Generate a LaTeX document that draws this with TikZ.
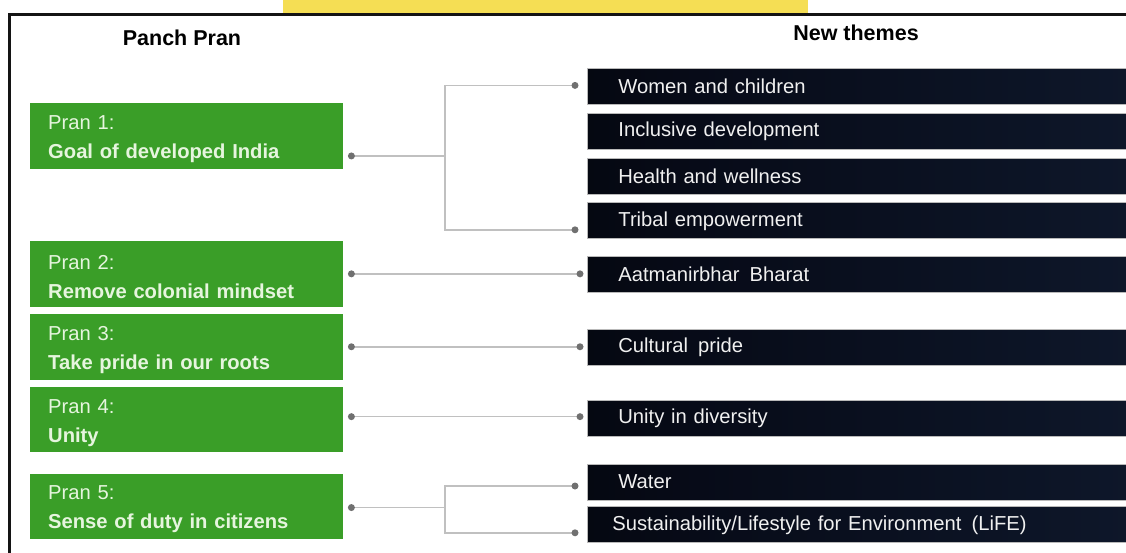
\documentclass[tikz,border=0pt]{standalone}
\usepackage{fontspec}
\setmainfont{Liberation Sans}
\usetikzlibrary{positioning, calc}

\definecolor{pranGreen}{RGB}{58,158,40}
\definecolor{pranText}{RGB}{230,245,222}
\definecolor{themeDeep}{RGB}{4,6,14}
\definecolor{themeMid}{RGB}{7,11,24}
\definecolor{themeNavy}{RGB}{15,25,45}
\definecolor{linkGray}{RGB}{192,192,192}
\definecolor{dotGray}{RGB}{112,112,112}
\definecolor{bannerYellow}{RGB}{245,222,84}
\definecolor{frameBlack}{RGB}{20,20,20}

\pgfdeclarehorizontalshading{themeshade}{100bp}{color(0bp)=(black); color(35bp)=(themeMid); color(82bp)=(themeNavy); color(100bp)=(themeDeep)}

\begin{document}
\begin{tikzpicture}[x=1pt, y=-1pt,
    pran/.style={fill=pranGreen, text=pranText, anchor=north west,
        minimum width=313pt, minimum height=65.5pt, inner xsep=18pt,
        text width=277pt, text height=20pt, align=left,
        font=\fontsize{20.2}{29}\selectfont},
    theme/.style={shading=themeshade, draw=gray!55, line width=0.8pt,
        text=white!94!black, anchor=north west,
        minimum width=545pt, minimum height=36pt, inner xsep=31pt,
        text width=483pt, align=left,
        font=\fontsize{20.2}{23}\selectfont},
    head/.style={font=\bfseries\fontsize{21.5}{25}\selectfont},
    link/.style={draw=linkGray, line width=1.6pt},
    dot/.style={fill=dotGray}
]
\useasboundingbox (0,0) rectangle (1126,552);

% banner and frame
\fill[bannerYellow] (283,0) rectangle (808,13);
\draw[frameBlack, line width=3pt] (1130,14.5) -- (9.5,14.5) -- (9.5,556);

% headings
\node[head] (hpran) at (182,38) {Panch Pran};
\node[head] (hthemes) at (856,33) {New themes};

% the five prans
\node[pran] (p1) at (30,103) {Pran 1:\\\textbf{Goal of developed India}};
\node[pran, below=72pt of p1] (p2) {Pran 2:\\\textbf{Remove colonial mindset}};
\node[pran, below=7pt of p2] (p3) {Pran 3:\\\textbf{Take pride in our roots}};
\node[pran, below=7pt of p3] (p4) {Pran 4:\\\textbf{Unity}};
\node[pran, below=21pt of p4] (p5) {Pran 5:\\\textbf{Sense of duty in citizens}};

% new themes
\node[theme] (t1) at (587,68) {Women and children};
\node[theme, below=8pt of t1] (t2) {Inclusive development};
\node[theme, below=8pt of t2] (t3) {Health and wellness};
\node[theme, below=8pt of t3] (t4) {Tribal empowerment};
\node[theme, below=17pt of t4] (t5) {Aatmanirbhar\, Bharat};
\node[theme, below=36pt of t5] (t6) {Cultural\, pride};
\node[theme, below=34pt of t6] (t7) {Unity in diversity};
\node[theme, below=27pt of t7] (t8) {Water};
\node[theme, below=6pt of t8, inner xsep=25pt, text width=495pt] (t9) {Sustainability/Lifestyle for Environment\, (LiFE)};

% connector ends
\coordinate (d1) at ([xshift=8pt,yshift=-20pt]p1.east);
\coordinate (d2) at ([xshift=8pt]p2.east);
\coordinate (d3) at ([xshift=8pt]p3.east);
\coordinate (d4) at ([xshift=8pt,yshift=3pt]p4.east);
\coordinate (d5) at ([xshift=8pt,yshift=-1pt]p5.east);
\coordinate (bus) at (445,0);
\coordinate (e1) at ([xshift=-12pt,yshift=1pt]t1.west);
\coordinate (e4) at ([xshift=-12pt,yshift=-9pt]t4.west);
\coordinate (e5) at ($(d2 -| t5.west)+(-7,0)$);
\coordinate (e6) at ($(d3 -| t6.west)+(-7,0)$);
\coordinate (e7) at ($(d4 -| t7.west)+(-7,0)$);
\coordinate (e8) at ([xshift=-12pt,yshift=-4pt]t8.west);
\coordinate (e9) at ([xshift=-12pt,yshift=-8pt]t9.west);

% connectors
\draw[link] (d1) -- (d1 -| bus) |- (e1);
\draw[link] (d1 -| bus) |- (e4);
\draw[link] (d2) -- (e5);
\draw[link] (d3) -- (e6);
\draw[link] (d4) -- (e7);
\draw[link] (d5) -- (d5 -| bus) |- (e8);
\draw[link] (d5 -| bus) |- (e9);

\foreach \c in {d1,d2,d3,d4,d5,e1,e4,e5,e6,e7,e8,e9}
    \fill[dot] (\c) circle (3.5pt);
\end{tikzpicture}
\end{document}
